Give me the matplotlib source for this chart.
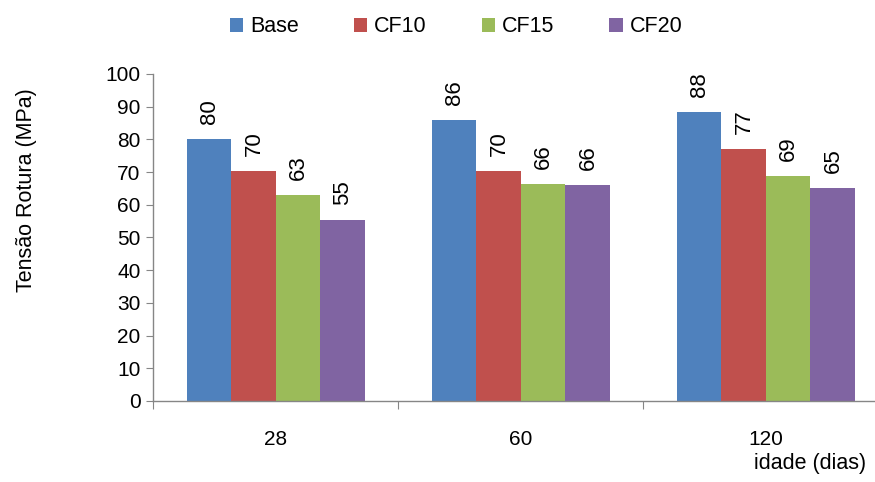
import matplotlib
matplotlib.use("Agg")
import matplotlib.pyplot as plt
import numpy as np

categories = ["28", "60", "120"]
series_names = ["Base", "CF10", "CF15", "CF20"]
base = [80.0, 85.9, 88.4]
cf10 = [70.3, 70.3, 77.1]
cf15 = [63.0, 66.4, 68.8]
cf20 = [55.3, 66.0, 65.2]
labels_base = ["80", "86", "88"]
labels_cf10 = ["70", "70", "77"]
labels_cf15 = ["63", "66", "69"]
labels_cf20 = ["55", "66", "65"]
colors = ["#4F81BD", "#C0504D", "#9BBB59", "#8064A2"]
yticks = list(range(0, 101, 10))

plt.rcParams['font.family'] = ['Liberation Sans', 'DejaVu Sans']

fig = plt.figure(figsize=(8.75, 4.82), dpi=100)
ax = fig.add_axes([153/875, 81/482, 1 - 153/875, (401-74)/482])

values = [base, cf10, cf15, cf20]
labels = [labels_base, labels_cf10, labels_cf15, labels_cf20]
x = np.arange(len(categories))
w = 44.5/245
handles = []
for i, (vals, lab, c, n) in enumerate(zip(values, labels, colors, series_names)):
    pos = x + (i - 1.5) * w
    b = ax.bar(pos, vals, width=w, color=c, label=n, edgecolor='none')
    handles.append(b)
    for p, v, t in zip(pos, vals, lab):
        ax.annotate(t, (p, v), xytext=(0.5, 11), textcoords='offset points',
                    rotation=90, ha='center', va='bottom', fontsize=16)

ax.set_ylim(0, 100)
ax.set_xlim(-0.5, 2.5 - 13/245)
ax.set_yticks(yticks)
ax.tick_params(axis='y', labelsize=15, direction='out', length=5, color='#868686', pad=4)
ax.set_xticks([-0.5, 0.5, 1.5])
ax.set_xticklabels([])
ax.tick_params(axis='x', direction='out', length=6, color='#868686')
for xi, c in zip(x, categories):
    ax.annotate(c, (xi, 0), xytext=(0, -28), textcoords='offset points',
                ha='center', va='center', fontsize=15)
for s in ['top', 'right']:
    ax.spines[s].set_visible(False)
for s in ['left', 'bottom']:
    ax.spines[s].set_color('#868686')
    ax.spines[s].set_linewidth(1.0)
ax.set_ylabel("Tensão Rotura (MPa)", fontsize=15.5)
ax.yaxis.set_label_coords((37 - 153) / (875 - 153), (401 - 190) / (401 - 74))

fig.text(810/875, 1 - 464/482, "idade (dias)", ha='center', va='center', fontsize=15.5)

leg = fig.legend(handles=handles, loc='center', bbox_to_anchor=(456/875, 1 - 27/482),
                 ncol=4, frameon=False, fontsize=15.5, handlelength=0.62, handleheight=0.62,
                 handletextpad=0.33, columnspacing=2.55)

fig.savefig("out.png", dpi=100)
